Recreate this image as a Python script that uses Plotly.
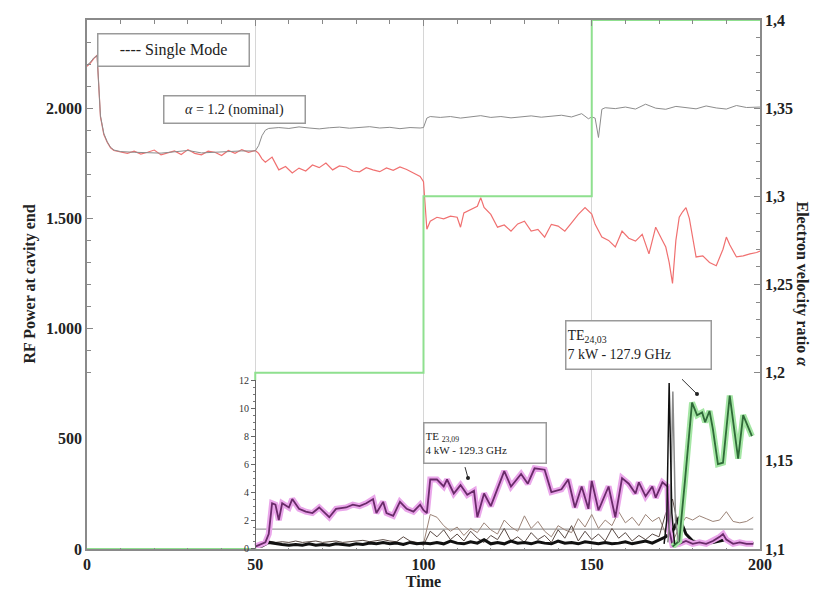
import plotly.graph_objects as go

# ---------------- data ----------------
red_t = [0, 1, 2, 3, 4, 5, 6, 7, 8, 10, 12, 14, 16, 18, 20, 22, 24, 26, 28, 30, 32, 34, 36, 38, 40, 42, 44, 46, 48,
         50, 51, 52, 53, 54, 55, 57, 59, 61, 63, 65, 67, 69, 71, 73, 75, 77, 79, 81, 83, 85, 87, 89, 91, 93, 95, 97, 99,
         100, 101, 102, 104, 106, 108, 110, 111, 112, 114, 116, 117, 118, 120, 122, 124, 126, 128, 130, 132, 134, 136,
         138, 140, 142, 144, 146, 148, 150, 151, 153, 155, 157, 159, 161, 163, 165, 167, 169, 171, 172, 173, 174, 175,
         176, 177, 178, 179, 181, 183, 185, 187, 189, 190, 191, 193, 195, 197, 199, 200]
red_p = [2190, 2205, 2225, 2240, 1960, 1880, 1845, 1820, 1808, 1800, 1795, 1805, 1792, 1800, 1810, 1788, 1798, 1806,
         1790, 1812, 1795, 1788, 1805, 1800, 1785, 1808, 1795, 1812, 1800,
         1808, 1795, 1770, 1755, 1765, 1778, 1720, 1735, 1706, 1728, 1715, 1742, 1730, 1751, 1720, 1738, 1733, 1715,
         1711, 1730, 1720, 1712, 1729, 1718, 1733, 1722, 1706, 1690,
         1666, 1451, 1487, 1505, 1498, 1510, 1505, 1460, 1525, 1540, 1555, 1594, 1550, 1518, 1460, 1470, 1442, 1475,
         1487, 1442, 1450, 1415, 1473, 1465, 1442, 1480, 1518, 1549, 1520, 1473, 1415, 1400, 1370, 1442, 1410, 1397,
         1428, 1339, 1460, 1400, 1370, 1300, 1205, 1400, 1505, 1530, 1549, 1500, 1325, 1330, 1300, 1285, 1360, 1415,
         1380, 1325, 1330, 1339, 1345, 1352]

single_t = [0, 1, 2, 3, 4, 5, 6, 7, 8, 10, 14, 18, 22, 26, 30, 34, 38, 42, 46, 50, 51, 52, 53, 54,
            57, 60, 63, 66, 69, 72, 75, 78, 81, 84, 87, 90, 93, 96, 99, 100, 101, 102, 105, 108, 111, 114, 117,
            120, 123, 126, 129, 132, 135, 138, 141, 144, 147, 149, 150, 151, 152, 153, 154, 157, 160, 163, 166,
            169, 172, 175, 178, 181, 184, 187, 190, 193, 196, 200]
single_p = [2195, 2208, 2228, 2238, 1965, 1885, 1848, 1822, 1810, 1803, 1800, 1798, 1796, 1802, 1808, 1797, 1801,
            1804, 1806, 1806, 1830, 1875, 1900, 1908,
            1912, 1908, 1915, 1910, 1906, 1911, 1914, 1909, 1912, 1916, 1910, 1913, 1907, 1912, 1910, 1912, 1955,
            1962, 1958, 1962, 1955, 1960, 1966, 1958, 1962, 1956, 1960, 1965, 1959, 1962, 1968, 1960, 1975, 1952,
            1960, 1955, 1867, 1995, 2002, 1998, 2005, 1996, 2018, 2000, 1995, 2008, 2002, 1997, 2010, 2001, 1996,
            2012, 2003, 2005]

alpha_t = [0, 50, 50, 100, 100, 150, 150, 200]
alpha_v = [1.1, 1.1, 1.2, 1.2, 1.3, 1.3, 1.4, 1.4]

# inset (kW)
pur_t = [50, 52, 53, 54, 55, 56, 57, 58, 60, 61, 63, 65, 67, 69, 72, 74, 77, 79, 81, 83, 85, 86, 88, 89, 91, 93, 95,
         97, 99, 100, 101, 102, 104, 106, 107, 109, 111, 113, 115, 116, 118, 120, 122, 124, 126, 129, 131, 133, 136,
         138, 141, 143, 145, 147, 149, 150, 152, 155, 157, 159, 161, 163, 164, 166, 168, 169, 171, 172.5, 173, 174,
         176, 178, 180, 182, 184, 186, 188, 189, 190, 192, 194, 196, 198]
pur_p = [0.1, 0.3, 0.4, 1.0, 3.2, 3.1, 2.0, 3.2, 2.9, 3.5, 2.8, 2.6, 2.5, 2.9, 2.2, 2.8, 2.9, 3.1, 3.0, 3.2, 3.5, 2.5,
         3.3, 2.5, 2.3, 3.3, 2.8, 2.6, 3.1, 2.7, 2.5, 4.9, 4.9, 4.4, 4.9, 3.9, 4.5, 3.8, 4.1, 2.2, 3.9, 3.0, 4.3, 5.5,
         4.4, 5.3, 4.6, 5.7, 5.6, 4.0, 4.2, 4.9, 2.9, 4.4, 2.8, 4.8, 2.7, 4.4, 2.2, 5.0, 4.6, 3.9, 4.7, 3.7, 4.4, 3.6,
         4.7, 4.4, 1.3, 0.2, 0.3, 0.5, 0.3, 0.4, 0.3, 0.5, 0.8, 1.0, 0.6, 0.3, 0.4, 0.3, 0.3]

grn_t = [174, 176, 177.7, 179.8, 181.3, 182.8, 183.7, 185, 186, 187.5, 189, 191, 193.5, 195, 197.6]
grn_p = [0.1, 0.5, 4.8, 10.4, 9.5, 9.7, 9.0, 9.8, 8.5, 6.0, 6.1, 10.9, 6.4, 9.5, 8.0]

spike_t = [171.5, 172.3, 173.0, 173.8, 174.6]
spike_p = [0.3, 2.0, 11.8, 2.5, 0.3]
spike2_t = [172.6, 173.4, 174.1, 174.9, 175.8]
spike2_p = [0.4, 2.5, 11.2, 2.0, 0.4]

base_t = list(range(50, 200, 2))
base_p = [0.1, 0.15, 0.4, 0.3, 0.25, 0.2, 0.25, 0.2, 0.3, 0.2, 0.25, 0.2, 0.3, 0.25, 0.2, 0.3, 0.25, 0.35, 0.3, 0.4,
          0.3, 0.35, 0.25, 0.4, 0.3, 0.35, 0.3, 0.4, 0.3, 0.5, 0.35, 0.3, 0.45, 0.35, 0.6, 0.3, 0.4, 0.3, 0.5, 0.35,
          0.4, 0.3, 0.45, 0.35, 0.3, 0.5, 0.35, 0.4, 0.3, 0.45, 0.35, 0.3, 0.4, 0.3, 0.35, 0.45, 0.3, 0.4, 0.5, 0.35,
          0.6, 0.8, 1.2, 2.2, 1.0, 0.5, 0.4, 0.35, 0.4, 0.5, 0.6, 0.4, 0.35, 0.4, 0.3]

mode_a_t = list(range(100, 200, 2))
mode_a_p = [0.3, 2.4, 2.2, 1.6, 1.2, 1.5, 0.9, 1.4, 1.1, 1.8, 1.3, 1.0, 2.0, 1.5, 1.2, 2.3, 1.4, 1.9, 1.2, 0.8, 1.6,
            1.3, 1.1, 2.1, 1.5, 2.4, 1.4, 2.0, 1.6, 2.6, 1.8, 2.2, 1.6, 2.4, 1.9, 2.2, 1.0, 0.4, 1.5, 2.2, 2.0, 2.3,
            2.1, 1.9, 2.0, 2.6, 1.9, 1.8, 1.9, 2.2]

mode_b_t = list(range(54, 178, 2))
mode_b_p = [0.5, 0.4, 0.45, 0.4, 0.5, 0.4, 0.45, 0.5, 0.4, 0.45, 0.5, 0.4, 0.45, 0.5, 0.55, 0.45, 0.5, 0.6, 0.5,
            0.45, 0.8, 0.5, 0.4,
            0.2, 1.2, 0.8, 1.3, 0.6, 1.0, 0.5, 1.2, 0.7, 0.4, 0.9, 0.6, 1.4, 0.5, 0.8, 0.4, 1.1, 0.6, 0.9, 0.4, 1.3,
            0.7, 1.6, 0.5, 1.2, 0.6, 1.0, 0.5, 1.4, 0.7, 1.1, 0.5, 0.9, 0.6, 1.0, 0.8, 2.5, 3.5, 1.2]

ref_t = [50, 198]
ref_p = [1.35, 1.35]

left_ticks = [0, 500, 1000, 1500, 2000]
left_labels = ["0", "500", "1.000", "1.500", "2.000"]
right_ticks = [1.1, 1.15, 1.2, 1.25, 1.3, 1.35, 1.4]
right_labels = ["1,1", "1,15", "1,2", "1,25", "1,3", "1,35", "1,4"]
x_ticks = [0, 50, 100, 150, 200]
inset_ticks = [0, 2, 4, 6, 8, 10, 12]

# ---------------- figure ----------------
W, H = 827, 596
ML, MR, MT, MB = 87, 67, 13, 47
PW, PH = W - ML - MR, H - MT - MB


def px(xp):
    return (xp - ML) / PW


def py(yp):
    return (H - MB - yp) / PH


SERIF = "Liberation Serif"
fig = go.Figure()

fig.add_trace(go.Scatter(x=alpha_t, y=alpha_v, yaxis="y2", mode="lines",
                         line=dict(color="#8fe08f", width=2), hoverinfo="skip"))
fig.add_trace(go.Scatter(x=ref_t, y=ref_p, yaxis="y3", mode="lines",
                         line=dict(color="#9a9a9a", width=1.2)))
fig.add_trace(go.Scatter(x=mode_a_t, y=mode_a_p, yaxis="y3", mode="lines",
                         line=dict(color="#9c8478", width=1)))
fig.add_trace(go.Scatter(x=mode_b_t, y=mode_b_p, yaxis="y3", mode="lines",
                         line=dict(color="#5a4a44", width=1)))
fig.add_trace(go.Scatter(x=base_t, y=base_p, yaxis="y3", mode="lines",
                         line=dict(color="#111111", width=3)))
fig.add_trace(go.Scatter(x=pur_t, y=pur_p, yaxis="y3", mode="lines",
                         line=dict(color="#eaa6ea", width=6)))
fig.add_trace(go.Scatter(x=pur_t, y=pur_p, yaxis="y3", mode="lines",
                         line=dict(color="#6a2a6a", width=1.8)))
fig.add_trace(go.Scatter(x=grn_t, y=grn_p, yaxis="y3", mode="lines",
                         line=dict(color="#a4e6a4", width=6)))
fig.add_trace(go.Scatter(x=grn_t, y=grn_p, yaxis="y3", mode="lines",
                         line=dict(color="#2f6a38", width=1.8)))
fig.add_trace(go.Scatter(x=spike2_t, y=spike2_p, yaxis="y3", mode="lines",
                         line=dict(color="#8a8a8a", width=1.5)))
fig.add_trace(go.Scatter(x=spike_t, y=spike_p, yaxis="y3", mode="lines",
                         line=dict(color="#111111", width=1.5)))
fig.add_trace(go.Scatter(x=red_t, y=red_p, mode="lines",
                         line=dict(color="#f07070", width=1.2)))
fig.add_trace(go.Scatter(x=single_t, y=single_p, mode="lines",
                         line=dict(color="#8c8c8c", width=1)))

tick_font = dict(family=SERIF, size=16, color="#222", weight="bold")

fig.update_layout(
    width=W, height=H, showlegend=False,
    margin=dict(l=ML, r=MR, t=MT, b=MB),
    paper_bgcolor="white", plot_bgcolor="white",
    font=dict(family=SERIF, color="#222"),
    xaxis=dict(range=[0, 200], tickvals=x_ticks, ticktext=[str(v) for v in x_ticks],
               ticks="inside", ticklen=6, tickcolor="#888",
               minor=dict(dtick=10, ticks="inside", ticklen=4, tickcolor="#888", showgrid=False),
               showgrid=True, gridcolor="#d6d6d6", gridwidth=1,
               showline=True, linecolor="#8a8a8a", linewidth=1.5, mirror="ticks",
               zeroline=False, tickfont=tick_font,
               title=dict(text="<b>Time</b>", font=dict(family=SERIF, size=16, color="#222"), standoff=0)),
    yaxis=dict(range=[0, 2400], tickvals=left_ticks, ticktext=left_labels,
               ticks="inside", ticklen=6, tickcolor="#888",
               minor=dict(dtick=100, ticks="inside", ticklen=4, tickcolor="#888", showgrid=False),
               showgrid=False, showline=True, linecolor="#8a8a8a", linewidth=1.5,
               zeroline=False, tickfont=tick_font),
    yaxis2=dict(range=[1.1, 1.4], overlaying="y", side="right",
                tickvals=right_ticks, ticktext=right_labels,
                ticks="inside", ticklen=6, tickcolor="#888",
                minor=dict(dtick=0.01, ticks="inside", ticklen=4, tickcolor="#888", showgrid=False),
                showgrid=False, showline=True, linecolor="#8a8a8a", linewidth=1.5,
                zeroline=False, tickfont=tick_font),
    yaxis3=dict(range=[0, 12], domain=[py(548), py(378)], anchor="free", position=px(255),
                tickvals=inset_ticks, ticktext=[str(v) for v in inset_ticks],
                ticks="outside", ticklen=4, tickcolor="#666",
                minor=dict(dtick=0.5, ticks="outside", ticklen=2, tickcolor="#777", showgrid=False),
                showgrid=False, showline=True, linecolor="#666", linewidth=1.2, zeroline=False,
                tickfont=dict(family=SERIF, size=10, color="#333")),
)

box = dict(bordercolor="#9a9a9a", borderwidth=1.5, bgcolor="white", showarrow=False,
           xref="paper", yref="paper", xanchor="center", yanchor="middle")
fig.add_annotation(text="---- Single Mode", x=px(173), y=py(43), width=148, height=29,
                   font=dict(family=SERIF, size=16, color="#222"), **box)
fig.add_annotation(text="<i>α</i> = 1.2 (nominal)", x=px(234), y=py(104), width=138, height=24,
                   font=dict(family=SERIF, size=14, color="#222"), **box)
fig.add_annotation(text="TE<sub>24,03</sub><br>7 kW - 127.9 GHz", x=px(638), y=py(342), width=142, height=45,
                   align="left", font=dict(family=SERIF, size=14, color="#222"), **box)
fig.add_annotation(text="TE <sub>23,09</sub><br>4 kW - 129.3 GHz", x=px(485), y=py(442), width=119, height=37,
                   align="left", font=dict(family=SERIF, size=11, color="#222"), **box)

# pointer lines with dot ends (layout decoration)
pointers = [((682, 377), (697, 392)), ((465, 466), (468, 477))]
for (x0, y0), (x1, y1) in pointers:
    fig.add_shape(type="line", xref="paper", yref="paper", x0=px(x0), y0=py(y0), x1=px(x1), y1=py(y1),
                  line=dict(color="#333", width=1))
    fig.add_shape(type="circle", xref="paper", yref="paper", x0=px(x1 - 2), x1=px(x1 + 2),
                  y0=py(y1 + 2), y1=py(y1 - 2), fillcolor="#222", line=dict(color="#222", width=0))

# axis titles
fig.add_annotation(text="<b>RF Power at cavity end</b>", x=px(18), y=0.5, xref="paper", yref="paper",
                   textangle=-90, showarrow=False, font=dict(family=SERIF, size=16, color="#222"))
fig.add_annotation(text="<b>Electron velocity ratio <i>α</i></b>", x=px(813), y=0.5, xref="paper", yref="paper",
                   textangle=90, showarrow=False, font=dict(family=SERIF, size=16, color="#222"))

fig.write_html("out.html")
